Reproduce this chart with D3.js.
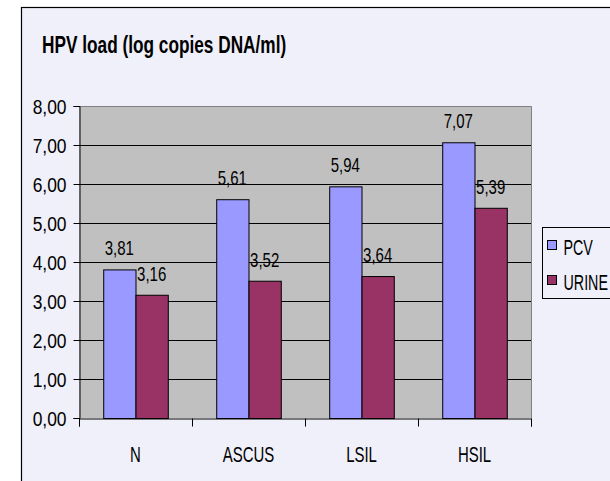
<!DOCTYPE html>
<html>
<head>
<meta charset="utf-8">
<script src="https://cdn.jsdelivr.net/npm/d3@7"></script>
<style>
  html, body { margin: 0; padding: 0; background: #ffffff; }
  svg { display: block; }
  text { font-family: "Liberation Sans", Arial, sans-serif; fill: #000; }
</style>
</head>
<body>
<svg id="chart" width="610" height="481"></svg>
<script>
const categories = ["N", "ASCUS", "LSIL", "HSIL"];
const seriesNames = ["PCV", "URINE"];
const pcvValues = [3.81, 5.61, 5.94, 7.07];
const urineValues = [3.16, 3.52, 3.64, 5.39];
const yTicks = [0, 1, 2, 3, 4, 5, 6, 7, 8];
const titleText = "HPV load (log copies DNA/ml)";

const colors = { PCV: "#9999FF", URINE: "#993366" };
const fmt = v => v.toFixed(2).replace(".", ",");

const svg = d3.select("#chart");

// outer chart frame
svg.append("rect")
  .attr("x", 21.5).attr("y", 7.5)
  .attr("width", 700).attr("height", 600)
  .attr("fill", "#F0F0FA").attr("stroke", "#000").attr("stroke-width", 1.2);

// text helper (condensed look via horizontal scale)
function label(g, x, y, txt, size, sx, anchor, weight) {
  return g.append("text")
    .attr("transform", `translate(${x},${y}) scale(${sx},1)`)
    .attr("text-anchor", anchor || "start")
    .style("font-size", size + "px")
    .style("font-weight", weight || "normal")
    .text(txt);
}

label(svg, 42, 53, titleText, 23, 0.75, "start", "bold");

const plot = { left: 79, right: 531, top: 106, bottom: 418 };

const x0 = d3.scaleBand().domain(categories).range([plot.left, plot.right]).paddingInner(0).paddingOuter(0);
// Excel gap width 150%: bar group = 2 bars, gap 1.5 bars
const groupPad = 1.5 / 3.5;
const x1 = d3.scaleBand().domain(seriesNames)
  .range([x0.bandwidth() * groupPad / 2, x0.bandwidth() * (1 - groupPad / 2)]);
const y = d3.scaleLinear().domain([0, 8]).range([plot.bottom, plot.top]);

// plot background
svg.append("rect")
  .attr("x", plot.left).attr("y", plot.top)
  .attr("width", plot.right - plot.left).attr("height", plot.bottom - plot.top)
  .attr("fill", "#C0C0C0");

// gridlines
svg.append("g").selectAll("line").data(yTicks.filter(t => t > 0 && t < 8)).join("line")
  .attr("x1", plot.left).attr("x2", plot.right)
  .attr("y1", d => Math.round(y(d)) + 0.5).attr("y2", d => Math.round(y(d)) + 0.5)
  .attr("stroke", "#000").attr("stroke-width", 1);

// plot border top & right
svg.append("path")
  .attr("d", `M${plot.left},${plot.top + 0.5}H${plot.right + 0.5}V${plot.bottom}`)
  .attr("fill", "none").attr("stroke", "#808080").attr("stroke-width", 1);

// bars
const rows = categories.map((c, i) => ({ cat: c, vals: [
  { s: "PCV", v: pcvValues[i] }, { s: "URINE", v: urineValues[i] }] }));

const groups = svg.append("g").selectAll("g").data(rows).join("g")
  .attr("transform", d => `translate(${x0(d.cat)},0)`);

groups.selectAll("rect").data(d => d.vals).join("rect")
  .attr("x", d => x1(d.s) + 0.5)
  .attr("y", d => y(d.v) + 0.5)
  .attr("width", x1.bandwidth())
  .attr("height", d => y(0) - y(d.v))
  .attr("fill", d => colors[d.s])
  .attr("stroke", "#000").attr("stroke-width", 1);

groups.each(function(d) {
  const g = d3.select(this);
  d.vals.forEach(v => {
    label(g, x1(v.s) + x1.bandwidth() / 2, y(v.v) - 14, fmt(v.v), 20, 0.75, "middle");
  });
});

// y axis
const yAxis = d3.axisLeft(y).tickValues(yTicks).tickSize(6).tickFormat(fmt);
const yg = svg.append("g").attr("transform", `translate(${plot.left + 0.5},0)`).call(yAxis);
yg.select(".domain").attr("stroke", "#000");
yg.selectAll(".tick line").attr("stroke", "#000");
yg.selectAll(".tick text")
  .attr("x", null).attr("dy", null)
  .attr("transform", "translate(-13,7) scale(0.87,1)")
  .style("font-size", "20px")
  .style("font-family", '"Liberation Sans", Arial, sans-serif')
  .attr("fill", "#000");

// x axis with ticks at category boundaries
const xg = svg.append("g").attr("transform", `translate(0,${plot.bottom + 0.5})`);
const boundary = d3.scaleLinear().domain([0, categories.length]).range([plot.left, plot.right]);
const xAxis = d3.axisBottom(boundary).tickValues(d3.range(categories.length + 1)).tickSize(8).tickFormat("");
xg.call(xAxis);
xg.select(".domain").attr("stroke", "#000");
xg.selectAll(".tick line").attr("stroke", "#000");
categories.forEach(c => {
  label(xg, x0(c) + x0.bandwidth() / 2, 43, c, 22, 0.68, "middle");
});

// legend
const lg = svg.append("g").attr("transform", "translate(542.5,227.5)");
lg.append("rect").attr("width", 120).attr("height", 71)
  .attr("fill", "#F0F0FA").attr("stroke", "#000").attr("stroke-width", 1);
seriesNames.forEach((s, i) => {
  lg.append("rect").attr("x", 5).attr("y", 13 + i * 35).attr("width", 9).attr("height", 9)
    .attr("fill", colors[s]).attr("stroke", "#000").attr("stroke-width", 1);
  label(lg, 21, 27 + i * 35, s, 22, 0.65, "start");
});
</script>
</body>
</html>
